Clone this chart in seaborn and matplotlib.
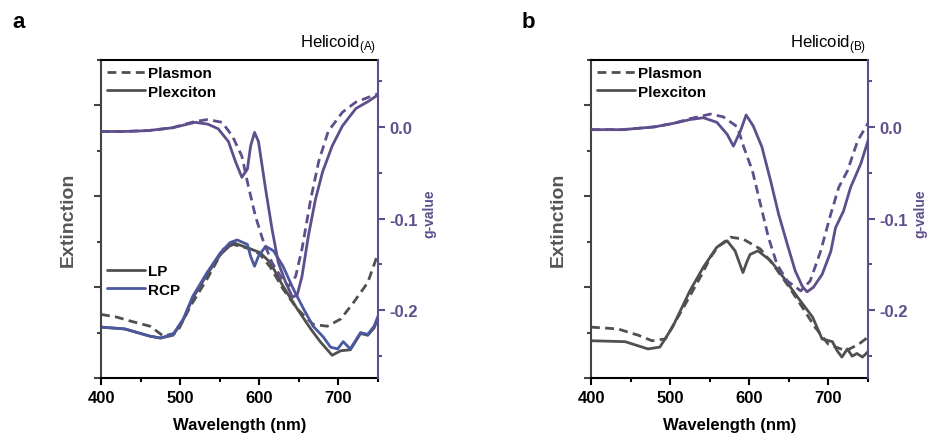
import matplotlib
matplotlib.use("Agg")
import matplotlib.pyplot as plt
from matplotlib.lines import Line2D
from matplotlib.ticker import MultipleLocator
import seaborn as sns
import pandas as pd

sns.set_style("ticks")
plt.rcParams['font.family'] = ['Liberation Sans', 'DejaVu Sans']
plt.rcParams['mathtext.fontset'] = 'custom'
plt.rcParams['mathtext.rm'] = 'Liberation Sans'

# ---------------- data: panel a (Helicoid A) ----------------
a_g_plex_wl = [400, 430, 460, 490, 519, 535, 548, 561, 570, 578, 585, 589, 594, 599, 608, 616, 624, 633, 642, 648,
               654, 662, 671, 680, 692, 705, 722, 738, 750]
a_g_plex = [-0.005, -0.005, -0.004, -0.001, 0.005, 0.003, -0.002, -0.016, -0.038, -0.055, -0.046, -0.021, -0.006,
            -0.016, -0.068, -0.111, -0.148, -0.169, -0.186, -0.183, -0.163, -0.119, -0.079, -0.049, -0.021, 0.001,
            0.020, 0.028, 0.035]

a_g_plas_wl = [400, 430, 460, 490, 519, 535, 553, 566, 578, 586, 595, 604, 616, 629, 637, 646, 654, 665, 675, 687,
               705, 722, 743, 750]
a_g_plas = [-0.005, -0.005, -0.004, -0.001, 0.006, 0.008, 0.005, -0.010, -0.032, -0.064, -0.097, -0.122, -0.148,
            -0.166, -0.174, -0.163, -0.133, -0.079, -0.038, -0.005, 0.016, 0.027, 0.034, 0.036]

a_ext_plas_wl = [400, 420, 440, 462, 479, 496, 513, 534, 555, 567, 589, 601, 614, 630, 648, 668, 686, 703, 719, 737, 750]
a_ext_plas = [0.70, 0.67, 0.62, 0.57, 0.46, 0.50, 0.79, 1.09, 1.42, 1.47, 1.42, 1.36, 1.22, 0.98, 0.76, 0.59, 0.57,
              0.65, 0.83, 1.05, 1.37]

a_lp_wl = [400, 430, 462, 475, 491, 504, 516, 534, 551, 567, 589, 601, 614, 630, 648, 665, 677, 692, 703, 715, 728,
           737, 745, 750]
a_lp = [0.56, 0.54, 0.46, 0.44, 0.47, 0.64, 0.88, 1.14, 1.36, 1.49, 1.42, 1.38, 1.27, 1.01, 0.76, 0.54, 0.40, 0.25,
        0.30, 0.31, 0.49, 0.47, 0.55, 0.66]

a_rcp_wl = [400, 430, 462, 475, 491, 504, 516, 534, 551, 563, 572, 585, 589, 594, 599, 608, 618, 630, 643, 656, 668,
            681, 690, 699, 706, 715, 728, 737, 745, 750]
a_rcp = [0.56, 0.54, 0.46, 0.44, 0.48, 0.65, 0.90, 1.16, 1.38, 1.49, 1.52, 1.47, 1.34, 1.23, 1.34, 1.45, 1.40, 1.23,
         0.98, 0.76, 0.57, 0.45, 0.34, 0.32, 0.40, 0.32, 0.50, 0.48, 0.57, 0.68]

# ---------------- data: panel b (Helicoid B) ----------------
b_g_plex_wl = [400, 440, 480, 505, 525, 542, 559, 572, 580, 589, 596, 605, 616, 627, 637, 648, 658, 667, 673, 681,
               692, 703, 709, 719, 728, 741, 750]
b_g_plex = [-0.003, -0.003, 0.000, 0.004, 0.008, 0.010, 0.005, -0.008, -0.021, -0.004, 0.013, 0.001, -0.022, -0.059,
            -0.095, -0.128, -0.157, -0.174, -0.180, -0.175, -0.161, -0.136, -0.110, -0.092, -0.066, -0.040, -0.015]

b_g_plas_wl = [400, 440, 480, 505, 525, 551, 567, 585, 593, 604, 614, 624, 635, 648, 665, 677, 690, 703, 713, 724,
               737, 750]
b_g_plas = [-0.003, -0.003, 0.000, 0.004, 0.009, 0.014, 0.011, 0.000, -0.022, -0.048, -0.084, -0.120, -0.150, -0.168,
            -0.179, -0.168, -0.136, -0.095, -0.066, -0.048, -0.015, 0.004]

b_ext_plas_wl = [400, 434, 460, 477, 494, 519, 540, 551, 561, 576, 592, 614, 630, 648, 661, 683, 700, 722, 738, 750]
b_ext_plas = [0.56, 0.54, 0.47, 0.41, 0.43, 0.81, 1.14, 1.33, 1.45, 1.55, 1.53, 1.42, 1.25, 1.03, 0.86, 0.56, 0.37,
              0.30, 0.37, 0.45]

b_ext_plex_wl = [400, 443, 472, 487, 503, 519, 525, 542, 559, 572, 582, 592, 597, 601, 611, 627, 643, 661, 680, 692,
                 705, 711, 717, 724, 730, 736, 743, 750]
b_ext_plex = [0.41, 0.40, 0.32, 0.34, 0.56, 0.85, 0.96, 1.22, 1.44, 1.51, 1.40, 1.16, 1.28, 1.36, 1.40, 1.29, 1.11,
              0.89, 0.67, 0.43, 0.40, 0.30, 0.23, 0.32, 0.24, 0.27, 0.23, 0.29]

x_ticks = [400, 500, 600, 700]
g_ticks = [0.0, -0.1, -0.2]
titles = ["Helicoid$_{\\mathregular{(A)}}$", "Helicoid$_{\\mathregular{(B)}}$"]
panel_letters = ["a", "b"]

# ---------------- styles ----------------
GRAY = "#505050"
PURPLE = "#5e4e8c"
BLUE = "#4a58a0"
LW = 2.0
DASH = (0, (3.2, 1.9))

fig = plt.figure(figsize=(9.27, 4.39), dpi=100)
W, H = 927, 439
lefts = [101, 591]
letter_x = [12, 522]
glabel_x = [1.162, 1.165]
ext_x = [-0.087, -0.087]
ax_w, top, bottom = 277, 61, 379


def line(ax, wl, vals, color, dashed=False, z=2):
    df = pd.DataFrame({"wl": wl, "v": vals})
    sns.lineplot(data=df, x="wl", y="v", ax=ax, color=color, lw=LW,
                 linestyle=DASH if dashed else "-", zorder=z, legend=False)


panels = [
    dict(g=[(a_g_plas_wl, a_g_plas, True), (a_g_plex_wl, a_g_plex, False)],
         ext=[(a_ext_plas_wl, a_ext_plas, GRAY, True), (a_lp_wl, a_lp, GRAY, False), (a_rcp_wl, a_rcp, BLUE, False)]),
    dict(g=[(b_g_plas_wl, b_g_plas, True), (b_g_plex_wl, b_g_plex, False)],
         ext=[(b_ext_plas_wl, b_ext_plas, GRAY, True), (b_ext_plex_wl, b_ext_plex, GRAY, False)]),
]

for i, p in enumerate(panels):
    ax = fig.add_axes([lefts[i] / W, (H - bottom) / H, ax_w / W, (bottom - top) / H])
    ax2 = ax.twinx()
    for wl, v, c, d in p["ext"]:
        line(ax, wl, v, c, d)
    for wl, v, d in p["g"]:
        line(ax2, wl, v, PURPLE, d)

    ax.set_xlim(400, 750)
    ax.set_ylim(0, 3.5)
    ax2.set_ylim(-0.274, 0.073)
    ax.set_xticks(x_ticks)
    ax.xaxis.set_minor_locator(MultipleLocator(50))
    ax.yaxis.set_major_locator(MultipleLocator(1))
    ax.yaxis.set_minor_locator(MultipleLocator(0.5))
    ax.set_yticklabels([])
    ax2.set_yticks(g_ticks)
    ax2.set_yticklabels([f"{t:.1f}" for t in g_ticks])
    ax2.yaxis.set_minor_locator(MultipleLocator(0.05))

    ax.tick_params(axis="x", which="major", length=5, width=1.5, labelsize=12, color="black",
                   labelcolor="black", pad=4)
    ax.tick_params(axis="x", which="minor", length=3, width=1.5, color="black")
    ax.tick_params(axis="y", which="major", length=5, width=1.5, color="#444444")
    ax.tick_params(axis="y", which="minor", length=3, width=1.5, color="#444444")
    ax2.tick_params(axis="y", which="major", length=5, width=1.5, labelsize=12, colors=PURPLE, pad=3)
    ax2.tick_params(axis="y", which="minor", length=3, width=1.5, colors=PURPLE)
    for lab in ax.get_xticklabels() + ax2.get_yticklabels():
        lab.set_fontweight("bold")

    for s in ["top", "bottom"]:
        ax.spines[s].set_color("black")
        ax.spines[s].set_linewidth(1.5)
    ax.spines["left"].set_color("#444444")
    ax.spines["left"].set_linewidth(1.5)
    ax.spines["right"].set_visible(False)
    ax2.spines["right"].set_color(PURPLE)
    ax2.spines["right"].set_linewidth(1.5)
    for s in ["top", "bottom", "left"]:
        ax2.spines[s].set_visible(False)

    ax.set_xlabel("Wavelength (nm)", fontsize=12, fontweight="bold", color="black", labelpad=8)
    ax.set_ylabel("Extinction", fontsize=14, fontweight="bold", color="#555555")
    ax.yaxis.set_label_coords(ext_x[i], 0.5)
    ax2.set_ylabel("g-value", fontsize=10, fontweight="bold", color=PURPLE)
    ax2.yaxis.set_label_coords(glabel_x[i], 0.52)

    ax.text(0.993, 1.041, titles[i], transform=ax.transAxes, ha="right", va="baseline", fontsize=12,
            color="black")
    fig.text(letter_x[i] / W, 1 - 28 / H, panel_letters[i], fontsize=16, fontweight="bold", color="black")

    h1 = [Line2D([], [], color=GRAY, lw=LW, linestyle=DASH), Line2D([], [], color=GRAY, lw=LW)]
    leg = ax2.legend(h1, ["Plasmon", "Plexciton"], loc="upper left", frameon=False,
                     prop=dict(weight="bold", size=11), handlelength=2.5, handletextpad=0.2,
                     borderaxespad=0.2, labelspacing=0.3, borderpad=0.2)
    for t in leg.get_texts():
        t.set_color("black")
    if i == 0:
        ax2.add_artist(leg)
        h2 = [Line2D([], [], color=GRAY, lw=LW), Line2D([], [], color=BLUE, lw=LW)]
        leg2 = ax2.legend(h2, ["LP", "RCP"], loc="upper left", bbox_to_anchor=(0.0, 0.377), frameon=False,
                          prop=dict(weight="bold", size=11), handlelength=2.5, handletextpad=0.2,
                          borderaxespad=0.2, labelspacing=0.3, borderpad=0.2)
        for t in leg2.get_texts():
            t.set_color("black")

fig.savefig("out.png", dpi=100)
